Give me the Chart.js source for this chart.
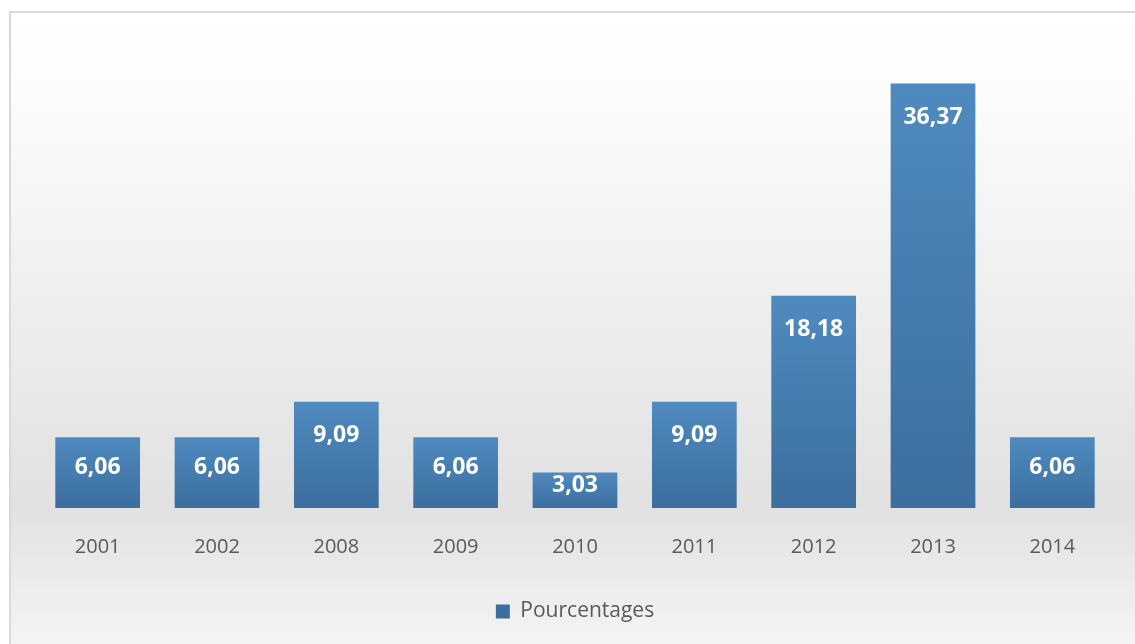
<!DOCTYPE html>
<html>
<head>
<meta charset="utf-8">
<script src="https://cdn.jsdelivr.net/npm/chart.js@4.4.1/dist/chart.umd.min.js"></script>
<style>
  html, body { margin: 0; padding: 0; background: #fff; }
  #wrap { width: 1135px; height: 644px; position: relative; }
</style>
</head>
<body>
<div id="wrap"><canvas id="chart"></canvas></div>
<script>
const years = ['2001', '2002', '2008', '2009', '2010', '2011', '2012', '2013', '2014'];
const pourcentages = [6.06, 6.06, 9.09, 6.06, 3.03, 9.09, 18.18, 36.37, 6.06];
const seriesName = 'Pourcentages';

// fond dégradé + cadre gris
const backgroundPlugin = {
    id: 'fond',
    beforeDraw(chart) {
        const c = chart.ctx;
        const g = c.createLinearGradient(0, 11, 0, 644);
        g.addColorStop(0, '#ffffff');
        g.addColorStop(0.15, '#fbfbfb');
        g.addColorStop(0.78, '#e1e1e1');
        g.addColorStop(1, '#f4f4f4');
        c.save();
        c.fillStyle = g;
        c.fillRect(10, 12, chart.width, chart.height);
        c.strokeStyle = '#d9d9d9';
        c.lineWidth = 2;
        c.strokeRect(10, 12, chart.width + 10, chart.height + 10);
        c.restore();
    }
};

// étiquettes blanches dans les barres
const labelPlugin = {
    id: 'etiquettes',
    afterDatasetsDraw(chart) {
        const c = chart.ctx;
        const meta = chart.getDatasetMeta(0);
        c.save();
        c.fillStyle = '#ffffff';
        c.font = 'bold 23px "Open Sans", sans-serif';
        c.textAlign = 'center';
        c.textBaseline = 'middle';
        meta.data.forEach(function(bar, i) {
            const txt = pourcentages[i].toFixed(2).replace('.', ',');
            const h = bar.base - bar.y;
            const off = Math.min(30, h / 2 - 9) + 4;
            c.fillText(txt, bar.x, bar.y + off);
        });
        c.restore();
    }
};

function barGradient(context) {
    const chart = context.chart;
    if (!chart.chartArea) return '#4a80b4';
    const y = chart.scales.y;
    const top = y.getPixelForValue(context.raw);
    const bottom = y.getPixelForValue(0);
    const g = chart.ctx.createLinearGradient(0, top, 0, bottom);
    g.addColorStop(0, '#4f8abf');
    g.addColorStop(1, '#3c6e9e');
    return g;
}

const ctx = document.getElementById('chart').getContext('2d');

const myChart = new Chart(ctx, {
    type: 'bar',
    data: {
        labels: years,
        datasets: [{
            label: seriesName,
            data: pourcentages,
            backgroundColor: barGradient,
            borderWidth: 0,
            barPercentage: 0.71,
            categoryPercentage: 1.0
        }]
    },
    options: {
        responsive: true,
        maintainAspectRatio: false,
        animation: false,
        layout: {
            padding: { left: 38, right: 23, top: 41, bottom: 12 }
        },
        plugins: {
            legend: {
                position: 'bottom',
                labels: {
                    boxWidth: 14,
                    boxHeight: 14,
                    color: '#595959',
                    font: { family: '"Open Sans", sans-serif', size: 21 },
                    padding: 23
                }
            },
            tooltip: { enabled: false }
        },
        scales: {
            x: {
                grid: { display: false },
                border: { display: false },
                ticks: {
                    color: '#595959',
                    font: { family: '"Open Sans", sans-serif', size: 20 },
                    padding: 19
                }
            },
            y: {
                display: false,
                min: 0,
                max: 40
            }
        }
    },
    plugins: [backgroundPlugin, labelPlugin]
});
</script>
</body>
</html>
